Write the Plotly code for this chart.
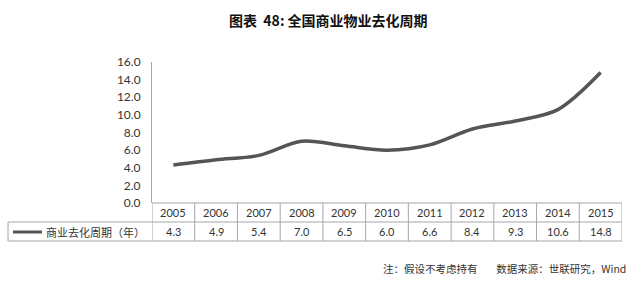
import plotly.graph_objects as go

years = ["2005", "2006", "2007", "2008", "2009", "2010", "2011", "2012", "2013", "2014", "2015"]
values = [4.3, 4.9, 5.4, 7.0, 6.5, 6.0, 6.6, 8.4, 9.3, 10.6, 14.8]
series_name = "商业去化周期（年）"
title_text = "图表  48: 全国商业物业去化周期"
note_text = "注：假设不考虑持有        数据来源：世联研究，Wind"
ytick_vals = [0, 2, 4, 6, 8, 10, 12, 14, 16]

W, H = 640, 286
L, R, T, B = 152, 18, 62, 83
PW, PH = W - L - R, H - T - B
LINE_COLOR = "#555555"
GRID = "#a6a6a6"
NUM_FONT = "Lato, DejaVu Sans, sans-serif"
CJK = "Noto Sans CJK SC"


def px(x):
    return (x - L) / PW


def py(y):
    return (H - B - y) / PH


fig = go.Figure()
fig.add_trace(go.Scatter(
    x=list(range(len(years))), y=values, mode="lines",
    line=dict(color=LINE_COLOR, width=3.5, shape="spline", smoothing=0.9),
    hoverinfo="skip", showlegend=False,
))

shapes = []
annotations = []
row_top, row_mid, row_bot = 203, 222, 241
LEFT = 8
n = len(years)
shapes.append(dict(type="line", xref="paper", yref="paper", x0=0, x1=1, y0=py(row_top), y1=py(row_top),
                   line=dict(color=GRID, width=1)))
shapes.append(dict(type="line", xref="paper", yref="paper", x0=px(LEFT), x1=1, y0=py(row_mid), y1=py(row_mid),
                   line=dict(color=GRID, width=1)))
shapes.append(dict(type="line", xref="paper", yref="paper", x0=px(LEFT), x1=1, y0=py(row_bot), y1=py(row_bot),
                   line=dict(color=GRID, width=1)))
for i in range(n + 1):
    shapes.append(dict(type="line", xref="x", yref="paper", x0=i - 0.5, x1=i - 0.5,
                       y0=py(row_top), y1=py(row_bot), line=dict(color=GRID, width=1)))
shapes.append(dict(type="line", xref="paper", yref="paper", x0=px(LEFT), x1=px(LEFT),
                   y0=py(row_mid), y1=py(row_bot), line=dict(color=GRID, width=1)))
shapes.append(dict(type="line", xref="paper", yref="paper", x0=px(13), x1=px(42),
                   y0=py(232), y1=py(232), line=dict(color=LINE_COLOR, width=3)))

for i, (yr, v) in enumerate(zip(years, values)):
    annotations.append(dict(x=i, y=py(212.5), xref="x", yref="paper", text=yr, showarrow=False,
                            yanchor="middle", font=dict(family=NUM_FONT, size=11, color="#333333")))
    annotations.append(dict(x=i, y=py(231.5), xref="x", yref="paper", text=f"{v:.1f}", showarrow=False,
                            yanchor="middle", font=dict(family=NUM_FONT, size=11, color="#333333")))

annotations.append(dict(x=px(44), y=py(231.5), xref="paper", yref="paper", text=series_name,
                        xanchor="left", yanchor="middle", showarrow=False,
                        font=dict(family=CJK, size=11, color="#333333")))
annotations.append(dict(x=px(328), y=py(20), xref="paper", yref="paper", text="<b>" + title_text + "</b>",
                        yanchor="middle", showarrow=False, font=dict(family=CJK, size=14, color="#111111")))
annotations.append(dict(x=px(628), y=py(268), xref="paper", yref="paper", text=note_text,
                        xanchor="right", yanchor="middle", showarrow=False,
                        font=dict(family=CJK, size=10.5, color="#333333")))

fig.update_layout(
    width=W, height=H, margin=dict(l=L, r=R, t=T, b=B, pad=0, autoexpand=False),
    paper_bgcolor="white", plot_bgcolor="white", showlegend=False,
    shapes=shapes, annotations=annotations,
    xaxis=dict(range=[-0.5, n - 0.5], showticklabels=False, showgrid=False, zeroline=False,
               showline=False, ticks="", automargin=False),
    yaxis=dict(range=[0, 16], tickvals=ytick_vals, tickformat=".1f", showgrid=False, zeroline=False,
               showline=True, linecolor=GRID, linewidth=1, ticks="", ticklabelstandoff=8,
               automargin=False, tickfont=dict(family=NUM_FONT, size=12, color="#333333")),
)

fig.write_html("out.html")
